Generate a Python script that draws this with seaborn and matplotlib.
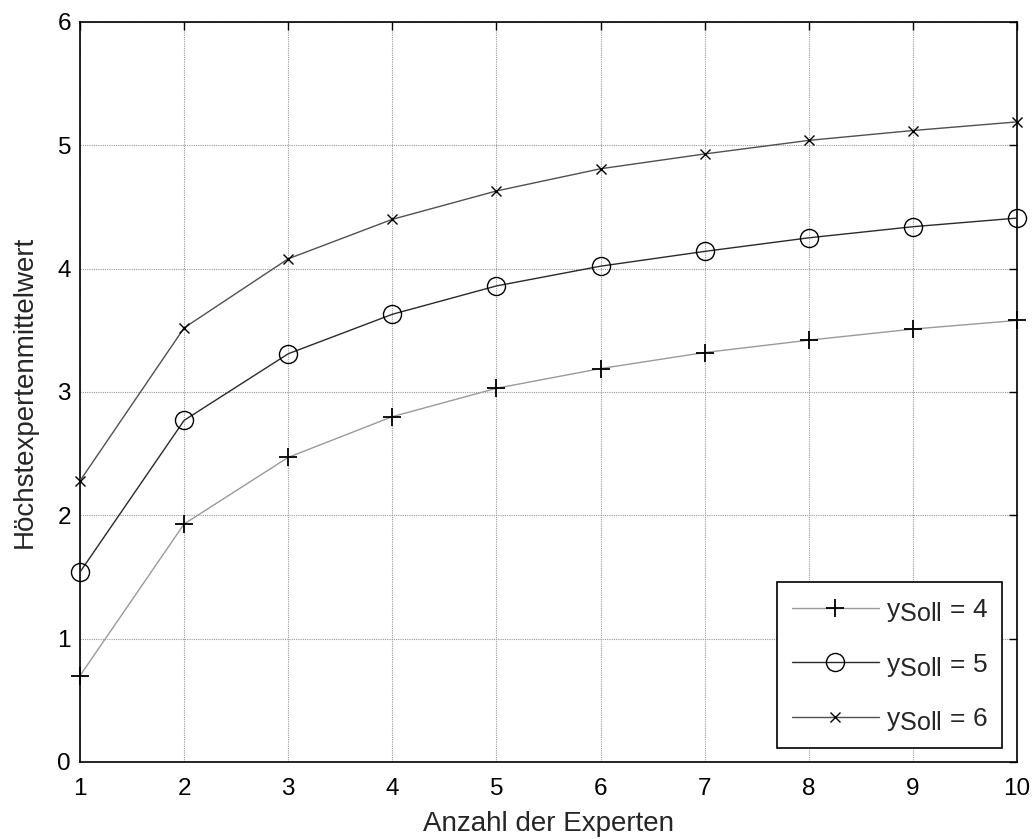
import numpy as np
import pandas as pd
import matplotlib
matplotlib.use("Agg")
import matplotlib.pyplot as plt
import matplotlib._mathtext as _mathtext
import seaborn as sns

# Number of experts and mean of the highest expert value for three target values
experten = [1, 2, 3, 4, 5, 6, 7, 8, 9, 10]
soll_4 = [0.70, 1.93, 2.47, 2.80, 3.03, 3.19, 3.32, 3.42, 3.51, 3.58]
soll_5 = [1.54, 2.77, 3.31, 3.63, 3.86, 4.02, 4.14, 4.25, 4.34, 4.41]
soll_6 = [2.28, 3.52, 4.08, 4.40, 4.63, 4.81, 4.93, 5.04, 5.12, 5.19]
soll_werte = [4, 5, 6]
x_ticks = list(range(1, 11))
y_ticks = list(range(0, 7))

sns.set_theme(style="white")
plt.rcParams["font.family"] = ["Liberation Sans", "DejaVu Sans"]
plt.rcParams["mathtext.fontset"] = "custom"
plt.rcParams["mathtext.rm"] = "Liberation Sans"
plt.rcParams["mathtext.it"] = "Liberation Sans"
# subscripts in the legend keep nearly full size
_mathtext.SHRINK_FACTOR = 0.95

df = pd.DataFrame({
    "x": experten * 3,
    "y": soll_4 + soll_5 + soll_6,
    "soll": sum([[s] * len(experten) for s in soll_werte], []),
})

fig = plt.figure(figsize=(10.34, 8.39), dpi=100)
ax = fig.add_axes([0.0774, 0.0918, 0.9062, 0.882])

styles = {
    4: dict(color="#9a9a9a", marker="+", ms=13, mew=1.3, mec="black"),
    5: dict(color="#2a2a2a", marker="o", ms=13, mew=1.0, mfc="none", mec="black"),
    6: dict(color="#505050", marker="x", ms=6.5, mew=1.0, mec="black"),
}

for s in soll_werte:
    sub = df[df["soll"] == s]
    st = styles[s]
    sns.lineplot(data=sub, x="x", y="y", ax=ax, color=st["color"], lw=1.0,
                 marker=st["marker"], markersize=st["ms"], markeredgewidth=st["mew"],
                 markeredgecolor=st["mec"], markerfacecolor=st.get("mfc", st["mec"]),
                 label=r"$\mathregular{y_{Soll}}$ = %d" % s, clip_on=False, zorder=3)

ax.set_xlim(1, 10)
ax.set_ylim(0, 6)
ax.set_xticks(x_ticks)
ax.set_yticks(y_ticks)
ax.grid(True, color="#9a9a9a", linestyle=(0, (1, 1)), linewidth=0.8)
ax.tick_params(direction="in", length=6, width=1, top=True, right=True,
               labelsize=17.5, colors="black")
ax.tick_params(axis="x", pad=11.5)
ax.tick_params(axis="y", pad=6.5)
for sp in ax.spines.values():
    sp.set_color("black")
    sp.set_linewidth(1.2)

ax.set_xlabel("Anzahl der Experten", fontsize=20, labelpad=8)
ax.set_ylabel("Höchstexpertenmittelwert", fontsize=20, labelpad=14)

leg = ax.legend(loc="lower right", bbox_to_anchor=(0.984, 0.019), borderaxespad=0,
                fontsize=19, frameon=True, fancybox=False, edgecolor="black",
                framealpha=1, handlelength=3.3, borderpad=0.55, labelspacing=1.05,
                handletextpad=0.25)
leg.get_frame().set_linewidth(1.2)

fig.savefig("out.png", dpi=100)
